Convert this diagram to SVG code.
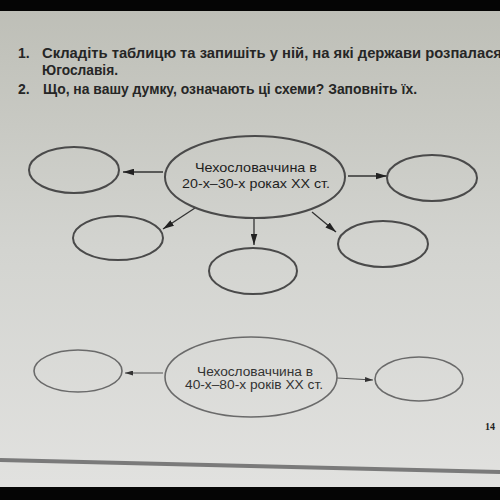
<svg xmlns="http://www.w3.org/2000/svg" width="500" height="500" viewBox="0 0 500 500">
<defs>
<linearGradient id="bg" x1="0" y1="0" x2="0" y2="1">
<stop offset="0" stop-color="#bdbeb6"/>
<stop offset="0.5" stop-color="#d3d4d0"/>
<stop offset="1" stop-color="#e2e2e0"/>
</linearGradient>
<marker id="ah" viewBox="0 0 10 6" refX="10" refY="3" markerWidth="11" markerHeight="7" markerUnits="userSpaceOnUse" orient="auto">
<path d="M0,0 L10,3 L0,6 Z" fill="#222"/>
</marker>
<marker id="ahs" viewBox="0 0 8 5" refX="8" refY="2.5" markerWidth="8" markerHeight="5" markerUnits="userSpaceOnUse" orient="auto">
<path d="M0,0 L8,2.5 L0,5 Z" fill="#333"/>
</marker>
</defs>
<style>
.task{font-family:"Liberation Sans","DejaVu Sans",sans-serif;font-size:14px;font-weight:bold;fill:#262626}
.lbl{font-family:"Liberation Sans","DejaVu Sans",sans-serif;font-size:13px;fill:#1e1e1e}
.lbl2{font-family:"Liberation Sans","DejaVu Sans",sans-serif;font-size:12px;fill:#333}
.node{fill:none;stroke:#4a4a4a;stroke-width:2}
.node2{fill:none;stroke:#6a6a6a;stroke-width:1.6}
.conn{stroke:#333;stroke-width:1.3;fill:none;marker-end:url(#ah)}
.conn2{stroke:#555;stroke-width:1.1;fill:none;marker-end:url(#ahs)}
</style>
<rect x="0" y="0" width="500" height="500" fill="url(#bg)"/>
<rect x="0" y="0" width="500" height="11" fill="#050505"/>
<rect x="0" y="487" width="500" height="13" fill="#050505"/>
<path d="M0,460 L500,472" stroke="#7a7a7a" stroke-width="4" fill="none"/>

<text class="task" x="18" y="58">1.</text>
<text class="task" x="42" y="58" textLength="460" lengthAdjust="spacingAndGlyphs">Складіть таблицю та запишіть у ній, на які держави розпалася</text>
<text class="task" x="42" y="75" textLength="76" lengthAdjust="spacingAndGlyphs">Югославія.</text>
<text class="task" x="18" y="94">2.</text>
<text class="task" x="43" y="94" textLength="374" lengthAdjust="spacingAndGlyphs">Що, на вашу думку, означають ці схеми? Заповніть їх.</text>

<g id="connectors">
<line class="conn" x1="163" y1="172" x2="123" y2="172"/>
<line class="conn" x1="195" y1="208" x2="163" y2="229"/>
<line class="conn" x1="348" y1="176" x2="387" y2="176"/>
<line class="conn" x1="312" y1="212" x2="336" y2="232"/>
<line class="conn" x1="254" y1="219" x2="254" y2="245"/>
<line class="conn2" x1="163" y1="373" x2="125" y2="373"/>
<line class="conn2" x1="337" y1="378" x2="373" y2="380"/>
</g>

<g id="center1">
<ellipse class="node" cx="255" cy="177" rx="90" ry="41"/>
<text class="lbl" x="256" y="172" text-anchor="middle" textLength="122" lengthAdjust="spacingAndGlyphs">Чехословаччина в</text>
<text class="lbl" x="256" y="188" text-anchor="middle" textLength="148" lengthAdjust="spacingAndGlyphs">20-х–30-х роках XX ст.</text>
</g>
<g id="tl"><ellipse class="node" cx="74" cy="170" rx="45" ry="23"/></g>
<g id="ml"><ellipse class="node" cx="118" cy="238" rx="45" ry="22"/></g>
<g id="tr"><ellipse class="node" cx="432" cy="178" rx="45" ry="23"/></g>
<g id="mr"><ellipse class="node" cx="383" cy="244" rx="45" ry="23"/></g>
<g id="bc"><ellipse class="node" cx="253" cy="271" rx="44" ry="23"/></g>

<g id="center2">
<ellipse class="node2" cx="251" cy="377" rx="86" ry="40"/>
<text class="lbl2" x="255" y="376" text-anchor="middle" textLength="116" lengthAdjust="spacingAndGlyphs">Чехословаччина в</text>
<text class="lbl2" x="254" y="389" text-anchor="middle" textLength="138" lengthAdjust="spacingAndGlyphs">40-х–80-х років XX ст.</text>
</g>
<g id="bl"><ellipse class="node2" cx="78" cy="371" rx="44" ry="21"/></g>
<g id="br"><ellipse class="node2" cx="419" cy="379" rx="44" ry="22"/></g>

<text x="485" y="430" font-family="Liberation Serif, serif" font-size="10" font-weight="bold" fill="#222">14</text>
</svg>
